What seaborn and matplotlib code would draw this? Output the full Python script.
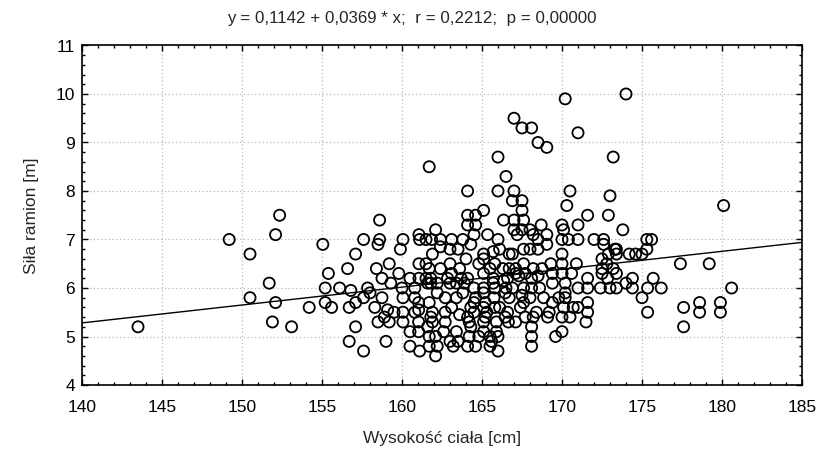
import matplotlib
matplotlib.use("Agg")
import matplotlib.pyplot as plt
from matplotlib.ticker import MultipleLocator
import seaborn as sns
import numpy as np
import pandas as pd

# ---- data ----
height = [
    143.5, 149.2, 150.5, 150.5, 151.7, 152.1, 152.35, 152.1, 151.9, 153.1, 154.2,
    155.05, 157.6, 158.6, 158.5, 158.6, 157.1, 155.4, 156.6, 158.4, 159.2, 158.75, 155.2, 156.1,
    156.8, 157.85, 158.0, 155.2, 155.6, 156.7, 157.1, 157.6, 158.75, 158.3, 159.1, 157.1, 158.5,
    158.9, 159.2, 159.5, 156.7, 159.0, 157.6, 159.9, 159.8, 159.3,
    160.06, 161.06, 161.1, 161.5, 161.85, 161.7, 160.06, 160.06, 160.0, 160.8, 161.06, 161.5,
    160.5, 161.06, 161.5, 161.6, 161.04, 161.04, 160.06, 161.04, 160.5, 161.04, 161.6, 160.5,
    161.1, 161.7, 161.7, 161.7, 161.8, 160.8, 161.7, 160.8, 161.9, 161.8, 161.9, 161.9, 161.8,
    162.4, 163.1, 163.8, 162.1, 164.5, 165.35, 166.0, 166.1, 164.3, 163.0, 163.5, 162.4, 165.1,
    164.0, 166.7, 165.7, 163.0, 163.6, 162.4, 164.8, 165.1, 165.8, 165.5, 166.7, 163.1, 162.85,
    163.7, 164.1, 165.1, 165.7, 166.35, 162.2, 163.0, 163.4, 163.9, 164.5, 165.1, 165.8, 165.7,
    166.5, 162.2, 162.7, 163.4, 163.8, 164.6, 165.1, 165.75, 166.45, 163.1, 164.3, 165.1, 165.8,
    164.5, 165.2, 162.7, 163.6, 164.5, 165.3, 166.1, 164.2, 165.1, 165.9, 166.65, 162.7, 164.3,
    164.1, 165.2, 166.45, 162.1, 162.6, 163.4, 165.1, 165.9, 165.5, 164.2, 164.8, 165.6, 162.2,
    163.0, 163.5, 164.1, 164.6, 165.5, 166.0, 166.0, 163.2, 162.1,
    166.0, 166.5, 164.1, 166.0, 167.0, 166.9, 167.5, 167.5, 165.1, 164.1, 164.6, 164.1, 164.6,
    166.35, 167.0, 167.6, 167.0, 167.5, 167.2, 168.0, 166.9, 167.6, 168.0, 168.5, 167.6, 167.1,
    166.3, 167.1, 167.7, 166.6, 167.3, 166.9, 167.6, 168.1, 168.6, 168.1, 166.7, 167.5, 168.0,
    167.6, 166.6, 167.4, 168.2, 167.1, 168.4, 167.7, 168.1, 168.1, 168.1,
    168.5, 169.05, 173.2, 170.5, 170.3, 173.0, 172.9, 171.6, 168.7, 169.05, 170.0, 170.1, 171.0,
    168.2, 168.5, 169.05, 170.0, 170.4, 171.0, 172.0, 172.6, 172.6, 173.8, 170.0, 172.9, 173.3,
    172.5, 168.2, 168.75, 169.3, 170.0, 170.0, 170.6, 170.9, 172.5, 173.2, 173.4, 172.5, 172.8,
    168.5, 169.4, 169.4, 170.2, 170.2, 171.0, 171.6, 171.6, 172.4, 173.0, 173.4, 172.85, 168.85,
    169.8, 170.2, 169.4, 169.2, 170.5, 171.0, 171.6, 171.6, 170.1, 170.7, 170.0, 169.1, 171.5,
    169.6, 170.0,
    174.0, 170.2, 167.0, 167.5, 168.1, 171.0,
    173.4, 173.4, 174.2, 174.6, 175.0, 175.3, 175.6, 175.3, 174.0, 174.4, 175.7, 174.4, 175.35,
    176.2, 175.0, 175.35, 177.4, 179.2, 180.1, 180.6, 177.6, 178.6, 178.6, 179.9, 179.9, 177.6,
]
strength = [
    5.2, 7.0, 6.7, 5.8, 6.1, 7.1, 7.5, 5.7, 5.3, 5.2, 5.6,
    6.9, 7.0, 7.4, 6.9, 7.0, 6.7, 6.3, 6.4, 6.4, 6.5, 6.2, 6.0, 6.0,
    5.95, 6.0, 5.9, 5.7, 5.6, 5.6, 5.7, 5.8, 5.8, 5.6, 5.55, 5.2, 5.3,
    5.4, 5.3, 5.5, 4.9, 4.9, 4.7, 6.8, 6.3, 6.1,
    7.0, 7.1, 7.0, 7.0, 7.0, 8.5, 5.5, 5.8, 6.0, 6.0, 6.5, 6.5,
    6.2, 6.2, 6.2, 6.1, 5.7, 5.55, 5.3, 5.3, 5.1, 5.1, 5.2, 4.8,
    4.7, 4.8, 5.0, 6.4, 6.2, 5.8, 5.7, 5.5, 5.5, 5.4, 5.3, 6.7, 6.1,
    7.0, 7.0, 7.0, 7.2, 7.1, 7.1, 7.0, 6.8, 6.9, 6.8, 6.8, 6.85, 6.7,
    6.6, 6.7, 6.75, 6.5, 6.4, 6.4, 6.5, 6.6, 6.5, 6.4, 6.4, 6.3, 6.2,
    6.2, 6.2, 6.3, 6.2, 6.15, 6.1, 6.1, 6.1, 6.1, 6.0, 6.0, 6.0, 6.1,
    6.0, 5.9, 5.8, 5.8, 5.9, 5.8, 5.9, 5.8, 5.9, 5.6, 5.6, 5.6, 5.6,
    5.7, 5.7, 5.5, 5.45, 5.5, 5.5, 5.6, 5.3, 5.3, 5.3, 5.3, 5.3, 5.2,
    5.4, 5.4, 5.4, 5.0, 5.1, 5.1, 5.1, 5.1, 5.0, 5.0, 5.0, 4.9, 4.8,
    4.9, 4.9, 4.8, 4.8, 4.8, 5.0, 4.7, 4.8, 4.6,
    8.7, 8.3, 8.0, 8.0, 8.0, 7.8, 7.8, 7.6, 7.6, 7.5, 7.5, 7.3, 7.3,
    7.4, 7.4, 7.4, 7.2, 7.2, 7.1, 7.2, 6.7, 6.8, 6.8, 6.8, 6.5, 6.4,
    6.4, 6.3, 6.3, 6.2, 6.25, 6.0, 6.0, 6.0, 6.0, 6.2, 5.8, 5.85, 5.8,
    5.7, 5.5, 5.6, 5.4, 5.3, 5.5, 5.4, 5.2, 5.0, 4.8,
    9.0, 8.9, 8.7, 8.0, 7.7, 7.9, 7.5, 7.5, 7.3, 7.1, 7.3, 7.2, 7.3,
    7.1, 7.0, 6.9, 7.0, 7.0, 7.0, 7.0, 7.0, 6.9, 7.2, 6.7, 6.7, 6.8,
    6.6, 6.4, 6.4, 6.5, 6.5, 6.3, 6.3, 6.5, 6.4, 6.4, 6.3, 6.3, 6.5,
    6.25, 6.3, 6.1, 6.1, 5.9, 6.0, 6.2, 6.0, 6.0, 6.0, 6.0, 6.2, 5.8,
    5.8, 5.8, 5.7, 5.5, 5.4, 5.6, 5.7, 5.5, 5.6, 5.6, 5.4, 5.4, 5.3,
    5.0, 5.1,
    10.0, 9.9, 9.5, 9.3, 9.3, 9.2,
    6.8, 6.7, 6.7, 6.7, 6.7, 7.0, 7.0, 6.8, 6.1, 6.2, 6.2, 6.0, 6.0,
    6.0, 5.8, 5.5, 6.5, 6.5, 7.7, 6.0, 5.6, 5.7, 5.5, 5.7, 5.5, 5.2,
]

# regression coefficients printed in the title
intercept = 0.1142
slope = 0.0369
r_value = "0,2212"
p_value = "0,00000"

x_ticks = [140, 145, 150, 155, 160, 165, 170, 175, 180, 185]
y_ticks = [4, 5, 6, 7, 8, 9, 10, 11]

title_text = f"y = 0,1142 + 0,0369 * x;  r = {r_value};  p = {p_value}"
x_label = "Wysokość ciała [cm]"
y_label = "Siła ramion [m]"

df = pd.DataFrame({"height": height, "strength": strength})

sns.set_theme(style="ticks")
plt.rcParams["font.family"] = ["Liberation Sans", "DejaVu Sans"]

fig = plt.figure(figsize=(8.23, 4.61), dpi=100)
ax = fig.add_axes([82 / 823, 1 - 385 / 461, 720 / 823, (385 - 45.5) / 461])

ax.set_xlim(x_ticks[0], x_ticks[-1])
ax.set_ylim(y_ticks[0], y_ticks[-1])

# regression line across the whole axis
line_x = np.array([x_ticks[0], x_ticks[-1]], dtype=float)
ax.plot(line_x, intercept + slope * line_x, color="black", lw=1.0, zorder=2)

sns.scatterplot(data=df, x="height", y="strength", ax=ax, marker="o",
                s=64, facecolor="none", edgecolor="black", linewidth=1.3,
                zorder=3, legend=False)

ax.set_xticks(x_ticks)
ax.set_yticks(y_ticks)
ax.xaxis.set_minor_locator(MultipleLocator(1))
ax.yaxis.set_minor_locator(MultipleLocator(0.2))
ax.tick_params(which="both", direction="in", top=True, right=True,
               labelsize=12.5, colors="black", width=1.0)
ax.tick_params(which="major", length=4.5)
ax.tick_params(which="minor", length=2.5)
ax.tick_params(axis="x", which="major", pad=11)
ax.tick_params(axis="y", which="major", pad=5)

ax.grid(True, which="major", linestyle=(0, (1, 2)), color="#b8b8b8", lw=0.9)
ax.set_axisbelow(True)
for sp in ax.spines.values():
    sp.set_color("black")
    sp.set_linewidth(1.2)

ax.set_xlabel(x_label, fontsize=12.5, labelpad=11)
ax.set_ylabel(y_label, fontsize=12.5, labelpad=12)
# title centred on the whole figure, as in the reference
fig.text(0.5, 1 - 19 / 461, title_text, fontsize=12.2, ha="center", va="center")

fig.savefig("out.png", dpi=100, facecolor="white")
